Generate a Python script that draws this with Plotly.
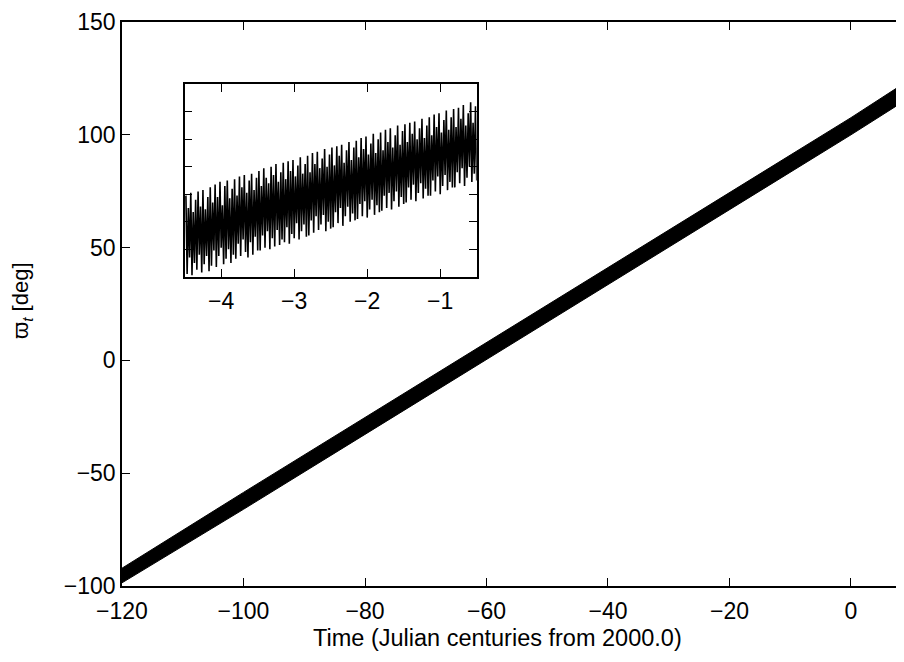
import numpy as np
import plotly.graph_objects as go

# main panel: edges of the dense band, read at the x ticks (deg)
band_t = [-120, -100, -80, -60, -40, -20, 0, 8.72]
band_upper = [-92.1, -58.5, -25.3, 7.9, 41.2, 74.4, 107.6, 122.8]
band_lower = [-98.6, -66.0, -32.8, 0.4, 33.6, 66.8, 100.0, 114.9]

# inset: successive maxima / minima of the fast oscillation, -4.5 .. -0.5 cy
inset_peaks = [
    99.9, 99.0, 100.1, 98.7, 99.6, 100.2, 99.1, 100.3, 98.9, 99.8,
    100.5, 99.4, 100.7, 99.8, 100.9, 99.2, 100.6, 101.0, 99.7, 100.4,
    101.1, 99.9, 101.3, 100.5, 101.4, 100.1, 101.0, 101.5, 100.3, 101.2,
    101.7, 100.6, 101.9, 101.2, 100.8, 102.0, 101.4, 102.2, 100.9, 101.6,
    102.3, 101.1, 102.4, 101.7, 102.5, 101.3, 102.1, 102.7, 101.5, 102.2,
    102.8, 101.6, 103.0, 102.2, 103.1, 101.9, 102.6, 103.3, 102.0, 102.9,
    103.4, 102.1, 103.5, 102.8, 103.6, 102.3, 103.2, 103.8, 102.5, 103.4,
    103.9, 102.7, 104.1, 103.3, 104.2, 102.9, 103.7, 104.4, 103.0, 104.0,
    104.5, 103.2, 104.7, 103.8, 104.8, 103.4, 104.3, 105.0, 103.6, 104.6,
    105.1, 103.8, 105.2, 104.4, 105.3, 104.0, 104.8, 105.5, 104.1, 105.0,
    105.6, 104.3, 105.8, 104.9, 105.9, 104.5, 105.4, 106.1, 104.7, 105.6,
    106.2, 104.9, 106.3, 105.5, 106.5, 105.0, 105.9, 106.7, 105.2, 106.4,
]
inset_troughs = [
    94.2, 95.4, 94.1, 95.0, 94.5, 95.6, 94.3, 94.9, 95.5, 94.4,
    94.8, 95.9, 94.7, 95.5, 96.1, 94.9, 95.3, 96.0, 95.0, 95.6,
    95.3, 96.4, 95.5, 96.7, 95.8, 95.4, 96.5, 95.6, 96.9, 95.9,
    95.9, 97.0, 96.1, 97.3, 96.0, 96.8, 96.2, 97.4, 96.3, 96.7,
    96.5, 97.6, 96.4, 97.1, 96.8, 97.9, 96.7, 97.3, 97.8, 96.9,
    97.0, 98.1, 97.2, 98.4, 97.4, 97.8, 98.5, 97.3, 98.0, 97.5,
    97.6, 98.7, 97.9, 99.0, 97.7, 98.4, 99.1, 98.0, 98.6, 98.1,
    98.2, 99.3, 98.4, 99.5, 98.3, 98.9, 99.6, 98.5, 99.2, 98.7,
    98.8, 99.9, 99.0, 100.1, 98.9, 99.5, 100.2, 99.1, 99.8, 99.3,
    99.4, 100.5, 99.6, 100.7, 99.5, 100.1, 100.8, 99.7, 100.4, 99.9,
    99.9, 101.0, 100.2, 101.3, 100.0, 100.6, 101.4, 100.3, 100.9, 100.5,
    100.5, 101.6, 100.8, 101.9, 100.6, 101.2, 102.0, 100.9, 101.5, 101.0,
]

x_ticks = [-120, -100, -80, -60, -40, -20, 0]
y_ticks = [-100, -50, 0, 50, 100, 150]
inset_x_ticks = [-4, -3, -2, -1]

FONT = "Liberation Sans, Arial, Helvetica, sans-serif"
FS = 23


def minus(vals):
    return [str(v).replace("-", "\u2212") for v in vals]


# zigzag: peak, trough, peak, trough ... on an even time grid
n = len(inset_peaks)
t_grid = np.linspace(-4.5, -0.5, 2 * n + 1)
zig = np.empty(2 * n)
zig[0::2] = inset_peaks
zig[1::2] = inset_troughs
t_zig = t_grid[1:]

fig = go.Figure()

fig.add_trace(go.Scatter(x=band_t, y=band_lower, mode="lines",
                         line=dict(color="black", width=1), showlegend=False))
fig.add_trace(go.Scatter(x=band_t, y=band_upper, mode="lines",
                         line=dict(color="black", width=1), fill="tonexty",
                         fillcolor="black", showlegend=False))

fig.add_trace(go.Scatter(x=t_zig, y=zig, mode="lines",
                         line=dict(color="black", width=1.6),
                         xaxis="x2", yaxis="y2", showlegend=False))

axis_common = dict(showline=True, linecolor="black", linewidth=1.5,
                   mirror="ticks", ticks="inside", ticklen=8, tickwidth=1,
                   tickcolor="black", showgrid=False, zeroline=False,
                   automargin=False,
                   tickfont=dict(family=FONT, size=FS, color="black"))

# page body adds an 8 px offset, so the figure is kept inside the window
fig.update_layout(
    template="none",
    width=888, height=646,
    margin=dict(l=114, r=0, t=14, b=68),
    paper_bgcolor="white", plot_bgcolor="white",
    font=dict(family=FONT, size=FS, color="black"),
    xaxis=dict(range=[-120, 7.41], tickvals=x_ticks, ticktext=minus(x_ticks),
               ticklabelstandoff=4, **axis_common),
    yaxis=dict(range=[-100, 150], tickvals=y_ticks, ticktext=minus(y_ticks),
               **{**axis_common, "mirror": False}),
    xaxis2=dict(domain=[0.0810, 0.4583], anchor="y2", range=[-4.5, -0.5],
                tickvals=inset_x_ticks, ticktext=minus(inset_x_ticks),
                ticklabelstandoff=3, **axis_common),
    yaxis2=dict(domain=[0.5484, 0.8895], anchor="x2", range=[94, 108],
                dtick=2, showticklabels=False, **axis_common),
    showlegend=False,
    annotations=[
        dict(text="Time (Julian centuries from 2000.0)", xref="paper",
             yref="paper", x=0.4845, y=-0.0922, xanchor="center",
             yanchor="middle", showarrow=False,
             font=dict(family=FONT, size=23.5, color="black")),
        dict(text="\u03d6<sub><i>t</i></sub> [deg]", xref="paper",
             yref="paper", x=-0.1292, y=0.5071, xanchor="center",
             yanchor="middle", textangle=-90, showarrow=False,
             font=dict(family=FONT, size=22, color="black")),
    ],
)

fig.write_html("out.html")
